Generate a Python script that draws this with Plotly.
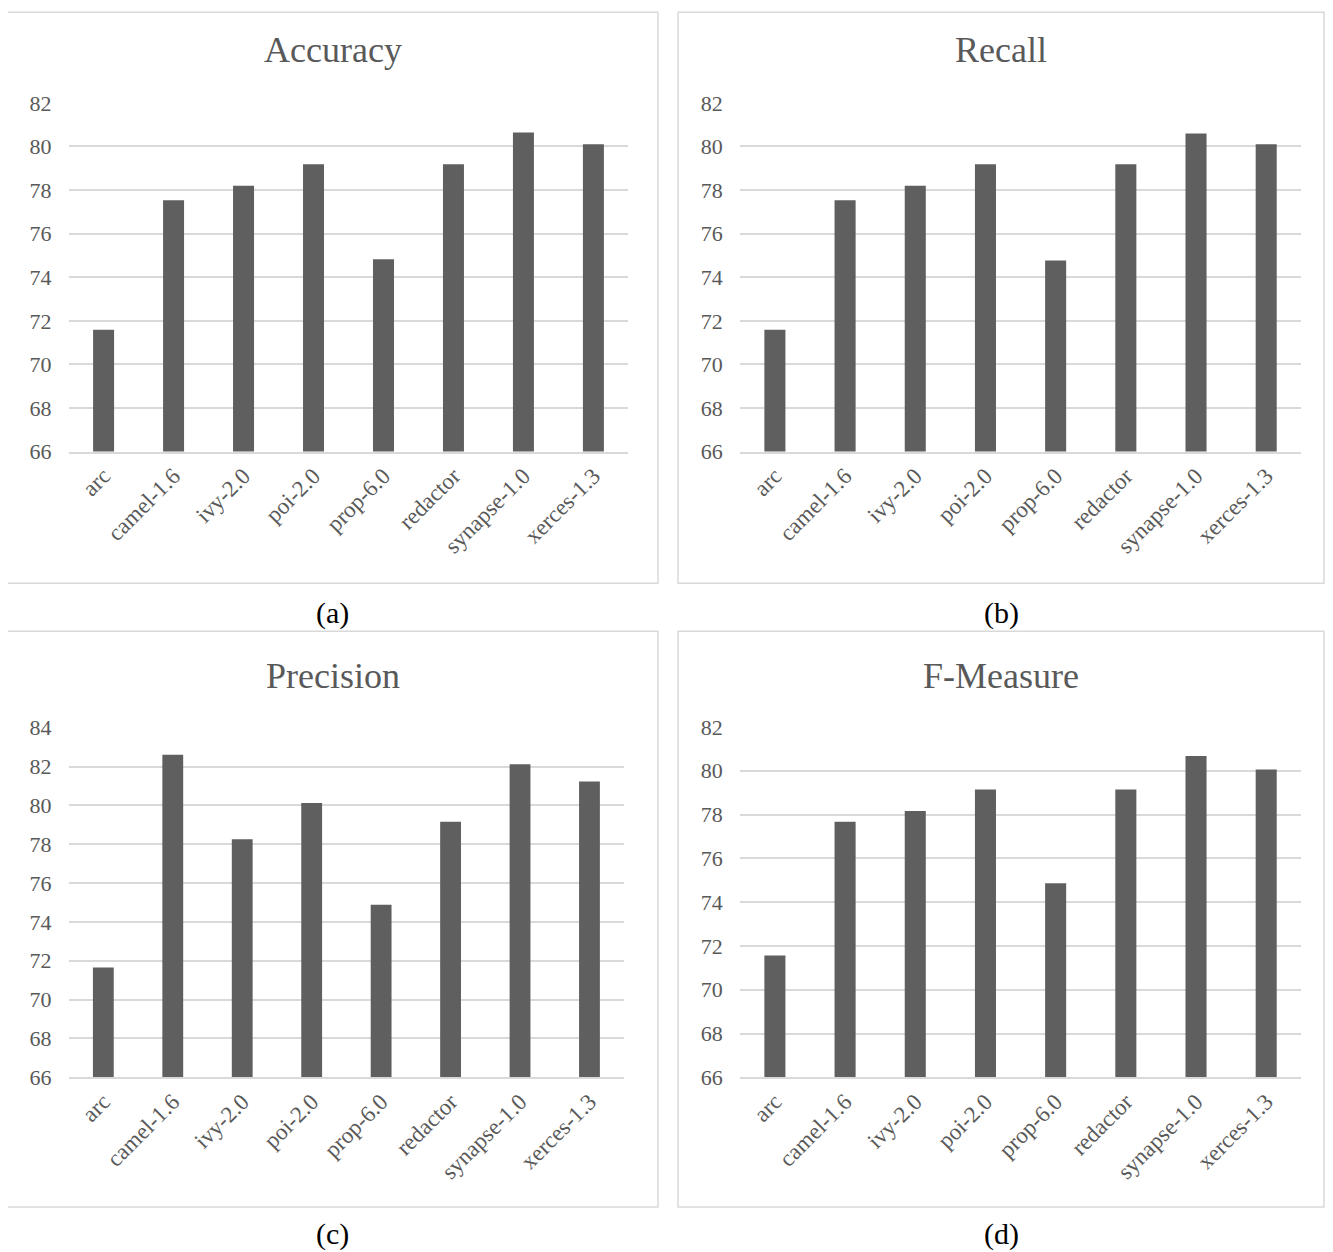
import plotly.graph_objects as go

categories = ["arc", "camel-1.6", "ivy-2.0", "poi-2.0", "prop-6.0", "redactor", "synapse-1.0", "xerces-1.3"]
accuracy = [71.59, 77.53, 78.20, 79.18, 74.82, 79.18, 80.64, 80.10]
recall = [71.59, 77.53, 78.20, 79.18, 74.77, 79.18, 80.59, 80.10]
precision = [71.65, 82.60, 78.26, 80.12, 74.89, 79.16, 82.12, 81.23]
fmeasure = [71.56, 77.67, 78.16, 79.14, 74.86, 79.14, 80.67, 80.06]

titles = ["Accuracy", "Recall", "Precision", "F-Measure"]
captions = ["(a)", "(b)", "(c)", "(d)"]
series = [accuracy, recall, precision, fmeasure]
yranges = [(66, 82), (66, 82), (66, 84), (66, 82)]

# target positions in screenshot pixels
panels = [
    dict(px=(68.6, 628.4), py=(102.7, 451), box=(7, 6, 658, 582.5), ty=50, cy=612, canchor="middle"),
    dict(px=(739.8, 1301.3), py=(102.7, 451), box=(678, 6, 1324, 582.5), ty=50, cy=612, canchor="middle"),
    dict(px=(68.6, 624.2), py=(726.7, 1076), box=(7, 630.5, 658, 1205.5), ty=675, cy=1251, canchor="bottom"),
    dict(px=(739.8, 1301.3), py=(726, 1076), box=(678, 630.5, 1324, 1205.5), ty=675, cy=1251, canchor="bottom"),
]

OFFX = 8
W, H = 1325, 1262
SY, TY = 0.979, 12.1   # observed vertical mapping of the page capture


def fx(v):
    return (v - OFFX) / W


def fy(v):
    fig_y = (v - TY) / SY - 8
    return 1 - fig_y / H


FONT = "Liberation Serif, Times New Roman, serif"
GRAY = "#595959"
BAR = "#5f5f5f"
GRID = "#d9d9d9"

fig = go.Figure()
layout = dict(width=W, height=H, margin=dict(l=0, r=0, t=0, b=0),
              paper_bgcolor="white", plot_bgcolor="white", showlegend=False,
              font=dict(family=FONT, color=GRAY))
shapes = []
annotations = []

for i, p in enumerate(panels):
    n = "" if i == 0 else str(i + 1)
    fig.add_trace(go.Bar(x=categories, y=series[i], marker=dict(color=BAR, line=dict(width=0)),
                         width=0.30, xaxis="x" + n, yaxis="y" + n))
    x0, x1 = p["px"]
    yt, yb = p["py"]
    lo, hi = yranges[i]
    layout["xaxis" + n] = dict(domain=[fx(x0), fx(x1)], anchor="y" + n, tickangle=-45,
                               tickfont=dict(family=FONT, size=23, color=GRAY),
                               showgrid=False, showline=True, linecolor=GRID, linewidth=1.5,
                               ticks="", fixedrange=True)
    layout["yaxis" + n] = dict(domain=[fy(yb), fy(yt)], anchor="x" + n,
                               range=[lo, hi + 0.001], dtick=2, tick0=66,
                               showgrid=True, gridcolor=GRID, gridwidth=1.5,
                               zeroline=False, showline=False,
                               tickfont=dict(family=FONT, size=22, color=GRAY),
                               ticklabelstandoff=16, ticks="", fixedrange=True)
    bx0, by0, bx1, by1 = p["box"]
    top = min(fy(by0), 1 + 8 / H)
    shapes.append(dict(type="rect", xref="paper", yref="paper",
                       x0=fx(bx0), x1=fx(bx1), y0=fy(by1), y1=top,
                       line=dict(color=GRID, width=1.5), fillcolor="rgba(0,0,0,0)", layer="below"))
    cx = (bx0 + bx1) / 2
    annotations.append(dict(text=titles[i], xref="paper", yref="paper", x=fx(cx), y=fy(p["ty"]),
                            showarrow=False, xanchor="center", yanchor="middle",
                            font=dict(family=FONT, size=36, color=GRAY)))
    annotations.append(dict(text=captions[i], xref="paper", yref="paper", x=fx(cx), y=fy(p["cy"]),
                            showarrow=False, xanchor="center", yanchor=p["canchor"],
                            font=dict(family=FONT, size=30, color="black")))

layout["shapes"] = shapes
layout["annotations"] = annotations
fig.update_layout(**layout)
fig.write_html("out.html")
